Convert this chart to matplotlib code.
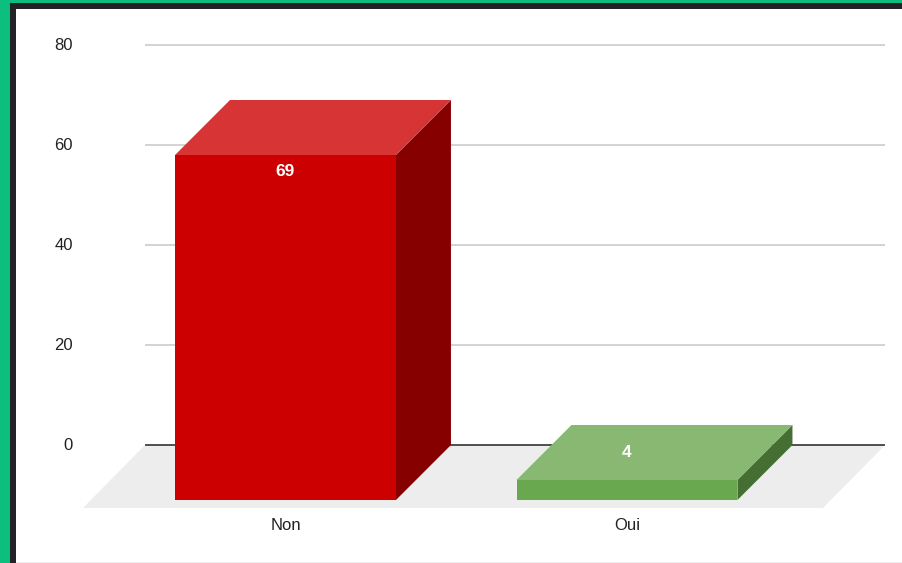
import matplotlib
matplotlib.use("Agg")
import matplotlib.pyplot as plt
from matplotlib.patches import Polygon, Rectangle

# ---- data ----
categories = ["Non", "Oui"]
values = [69, 4]
value_labels = ["69", "4"]
y_ticks = [0, 20, 40, 60, 80]

# ---- styles ----
front_colors = ["#CC0000", "#6AA84F"]
top_colors = ["#D73535", "#88B872"]
side_colors = ["#870000", "#456F32"]

W, H = 902, 563
fig = plt.figure(figsize=(W / 100, H / 100), dpi=100)
plt.rcParams['font.family'] = ['Liberation Sans', 'DejaVu Sans']

# frame
bg = fig.add_axes([0, 0, 1, 1])
bg.set_xlim(0, W); bg.set_ylim(H, 0); bg.axis("off")
bg.add_patch(Rectangle((0, 0), W, H, color="white"))
bg.add_patch(Rectangle((0, 0), 10, H, color="#0DBF7F", lw=0))
bg.add_patch(Rectangle((0, 0), W, 3, color="#0DBF7F", lw=0))
bg.add_patch(Rectangle((10, 3), 6, H, color="#212326", lw=0))
bg.add_patch(Rectangle((10, 3), W, 6, color="#212326", lw=0))
bg.add_patch(Rectangle((16, H - 1.5), W, 1.5, color="#EEEEEE", lw=0))

# plot axes: x pixel 145..885, y pixel 445 (0) .. 45 (80)
ax = fig.add_axes([145 / W, (H - 445) / H, 740 / W, 400 / H])
ax.set_ylim(0, 80)
ax.set_xlim(-0.4114, 1.7555)
ax.axis("off")

bar_w = 0.647
dx, dy = 0.161, 11.0          # bar depth offset (data units)
fdx, fdy = 0.1816, 12.6        # floor depth offset
x0, x1 = ax.get_xlim()

# gridlines
for t in y_ticks:
    if t == 0:
        continue
    ax.plot([x0, x1], [t, t], color="#CCCCCC", lw=1.2, zorder=1,
            solid_capstyle="butt", clip_on=False)

# floor
ax.add_patch(Polygon([(x0, 0), (x1, 0), (x1 - fdx, -fdy), (x0 - fdx, -fdy)],
                     closed=True, color="#EDEDED", lw=0, zorder=0.5, clip_on=False))
ax.plot([x0, x1], [0, 0], color="#333333", lw=1.2, zorder=1.5, solid_capstyle="butt", clip_on=False)

# tick labels
for t in y_ticks:
    ax.annotate(str(t), xy=(0, t), xycoords=("axes fraction", "data"),
                xytext=(-72, 0), textcoords="offset pixels",
                ha="right", va="center", fontsize=12, color="#222222",
                annotation_clip=False)

for i, (cat, v) in enumerate(zip(categories, values)):
    xl = i - bar_w / 2
    xr = i + bar_w / 2
    yb = -dy
    yt = v - dy
    front = Polygon([(xl, yb), (xr, yb), (xr, yt), (xl, yt)], closed=True,
                    color=front_colors[i], lw=0, zorder=3, clip_on=False)
    top = Polygon([(xl, yt), (xr, yt), (xr + dx, v), (xl + dx, v)], closed=True,
                  color=top_colors[i], lw=0, zorder=3, clip_on=False)
    side = Polygon([(xr, yb), (xr + dx, 0), (xr + dx, v), (xr, yt)], closed=True,
                   color=side_colors[i], lw=0, zorder=3, clip_on=False)
    for p in (side, top, front):
        ax.add_patch(p)
    ly = yt - 3.4 if (yt - yb) > 20 else yt + dy / 2
    ax.text(i, ly, value_labels[i], ha="center", va="center", color="white",
            fontsize=12.5, fontweight="bold", zorder=5, clip_on=False)
    ax.annotate(cat, xy=(i, 0), xycoords="data", xytext=(0, -80),
                textcoords="offset pixels", ha="center", va="center",
                fontsize=12, color="#222222", annotation_clip=False)

fig.savefig("out.png", dpi=100)
